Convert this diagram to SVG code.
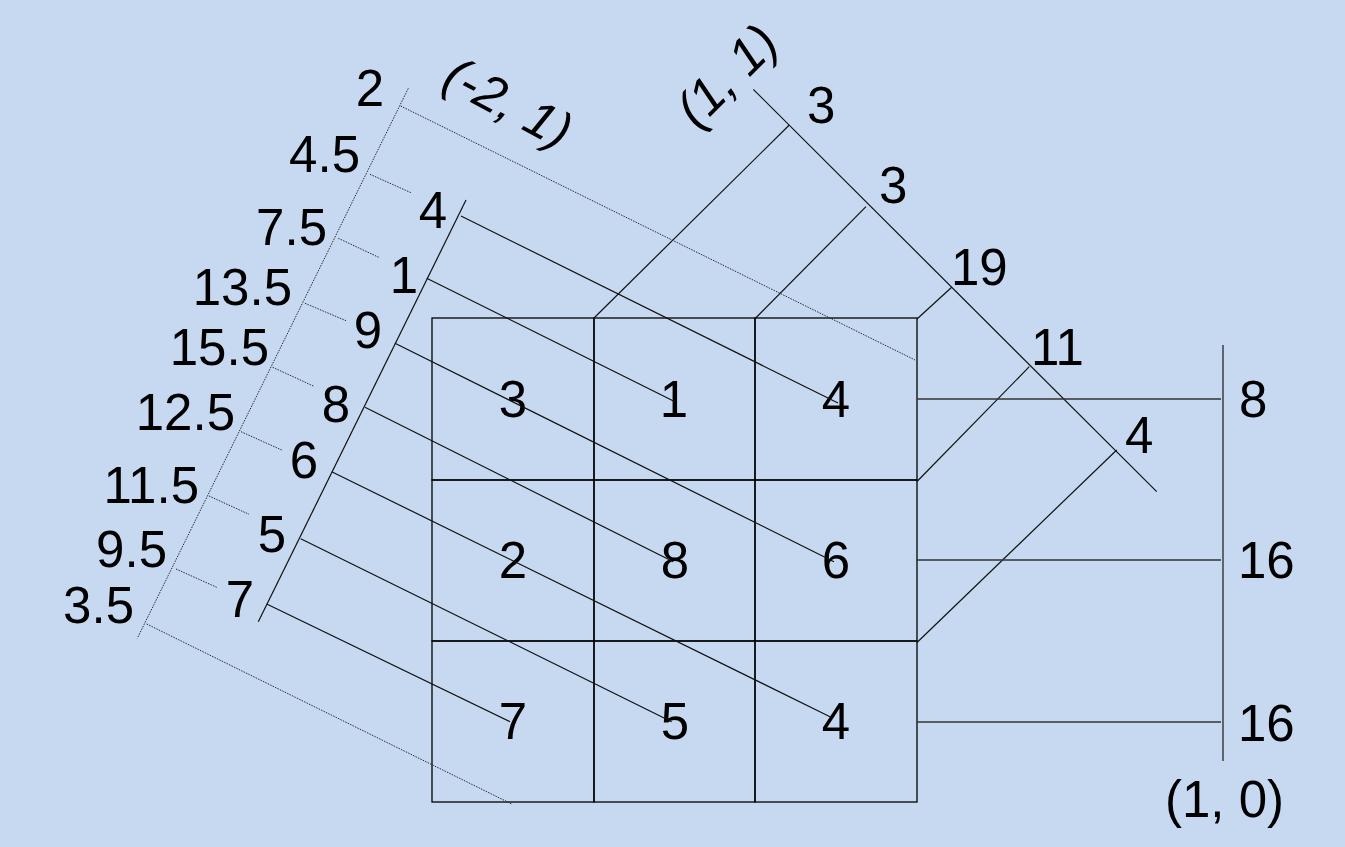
<svg xmlns="http://www.w3.org/2000/svg" width="1345" height="847" viewBox="0 0 1345 847">
<style>
text{font-family:"Liberation Sans",Arial,sans-serif;font-size:51px;fill:#000}
.e{text-anchor:end}
.m{text-anchor:middle}
.it{font-style:italic}
.cell{fill:none;stroke:#000;stroke-width:1.3}
.s{stroke:#111;stroke-width:1.2;fill:none}
.g{stroke:#333;stroke-width:1.4;fill:none}
.d{stroke:#2a2a2a;stroke-width:1;stroke-dasharray:1.5 1.2;fill:none}
</style>
<rect width="1345" height="847" fill="#C6D9F1"/>
<g id="grid">
<g id="c00"><rect class="cell" x="432" y="318" width="162" height="162"/><text class="m" x="513" y="417">3</text></g>
<g id="c01"><rect class="cell" x="594" y="318" width="161" height="162"/><text class="m" x="674" y="417">1</text></g>
<g id="c02"><rect class="cell" x="755" y="318" width="162" height="162"/><text class="m" x="836" y="417">4</text></g>
<g id="c10"><rect class="cell" x="432" y="480" width="162" height="161"/><text class="m" x="513" y="578">2</text></g>
<g id="c11"><rect class="cell" x="594" y="480" width="161" height="161"/><text class="m" x="675" y="578">8</text></g>
<g id="c12"><rect class="cell" x="755" y="480" width="162" height="161"/><text class="m" x="836" y="578">6</text></g>
<g id="c20"><rect class="cell" x="432" y="641" width="162" height="161"/><text class="m" x="513" y="739">7</text></g>
<g id="c21"><rect class="cell" x="594" y="641" width="161" height="161"/><text class="m" x="675" y="739">5</text></g>
<g id="c22"><rect class="cell" x="755" y="641" width="162" height="161"/><text class="m" x="836" y="739">4</text></g>
</g>
<g id="connectors">
<line class="s" x1="466" y1="200" x2="258.3" y2="621.7"/>
<line class="s" x1="461" y1="216" x2="838" y2="403"/>
<line class="s" x1="426.7" y1="278.3" x2="675" y2="401.7"/>
<line class="s" x1="395" y1="343.3" x2="834" y2="561.7"/>
<line class="s" x1="365" y1="407.3" x2="673.3" y2="561.7"/>
<line class="s" x1="331.7" y1="471.7" x2="830" y2="716.7"/>
<line class="s" x1="300.7" y1="538.7" x2="671.7" y2="721.7"/>
<line class="s" x1="266.7" y1="604" x2="510" y2="721.7"/>
<line class="s" x1="753.3" y1="89.3" x2="1156.7" y2="491.7"/>
<line class="s" x1="594" y1="318" x2="789.3" y2="125"/>
<line class="s" x1="755.7" y1="318" x2="866" y2="206.7"/>
<line class="s" x1="917" y1="319" x2="951.7" y2="287.3"/>
<line class="s" x1="917" y1="481.5" x2="1029.3" y2="366.7"/>
<line class="s" x1="917" y1="642.5" x2="1116.7" y2="450"/>
<line class="g" x1="1223" y1="345" x2="1223" y2="761"/>
<line class="g" x1="917" y1="399" x2="1221" y2="399"/>
<line class="g" x1="917" y1="560" x2="1221" y2="560"/>
<line class="g" x1="917" y1="722" x2="1221" y2="722"/>
<line class="d" x1="408.3" y1="88.3" x2="137.3" y2="638.3"/>
<line class="d" x1="400.7" y1="106" x2="915" y2="360"/>
<line class="d" x1="370" y1="174.3" x2="411" y2="192.7"/>
<line class="d" x1="338.3" y1="238.3" x2="378.7" y2="257.3"/>
<line class="d" x1="305" y1="303.3" x2="346" y2="320.7"/>
<line class="d" x1="272.7" y1="367.3" x2="313.3" y2="386"/>
<line class="d" x1="241" y1="431.7" x2="281.7" y2="450"/>
<line class="d" x1="209" y1="496" x2="249" y2="514.3"/>
<line class="d" x1="176" y1="569" x2="216.7" y2="587.3"/>
<line class="d" x1="146.7" y1="624" x2="511.7" y2="804"/>
</g>
<g id="outer-labels">
<text class="e" x="384" y="106">2</text>
<text class="e" x="360" y="172">4.5</text>
<text class="e" x="327" y="245">7.5</text>
<text class="e" x="292" y="305">13.5</text>
<text class="e" x="269" y="365">15.5</text>
<text class="e" x="235" y="430">12.5</text>
<text class="e" x="199" y="503">11.5</text>
<text class="e" x="167" y="567">9.5</text>
<text class="e" x="134" y="623">3.5</text>
</g>
<g id="inner-labels">
<text class="e" x="447" y="228">4</text>
<text class="e" x="418" y="293">1</text>
<text class="e" x="382" y="348">9</text>
<text class="e" x="350" y="422">8</text>
<text class="e" x="318" y="478">6</text>
<text class="e" x="286" y="552">5</text>
<text class="e" x="254" y="617">7</text>
</g>
<g id="diag-labels">
<text x="807" y="123">3</text>
<text x="879" y="203">3</text>
<text x="951" y="285">19</text>
<text x="1031" y="365">11</text>
<text x="1125" y="453">4</text>
</g>
<g id="right-labels">
<text x="1239" y="417">8</text>
<text x="1238" y="578">16</text>
<text x="1238" y="741">16</text>
<text x="1165" y="817">(1, 0)</text>
</g>
<g id="axis-names">
<text class="it" transform="translate(440,86) rotate(28)">(-2, 1)</text>
<text class="it" transform="translate(697,130) rotate(-45)">(1, 1)</text>
</g>
</svg>
